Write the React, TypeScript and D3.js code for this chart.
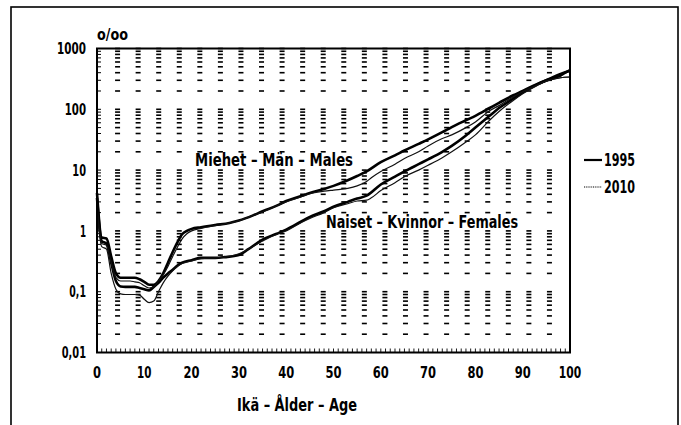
import React from "react";
import * as d3 from "d3";

const W = 681;
const H = 425;

const xTickLabels = ["0", "10", "20", "30", "40", "50", "60", "70", "80", "90", "100"];
const xTickValues = [0, 10, 20, 30, 40, 50, 60, 70, 80, 90, 100];
const yTickValues = [1000, 100, 10, 1, 0.1, 0.01];
const yTickLabels = ["1000", "100", "10", "1", "0,1", "0,01"];
const legendLabels = ["1995", "2010"];

const males1995: [number, number][] = [
  [0, 4.2], [1, 0.78], [2, 0.75], [3, 0.38], [4, 0.2], [5, 0.17], [6, 0.17], [7, 0.17], [8, 0.17],
  [9, 0.16], [10, 0.145], [11, 0.13], [12, 0.13], [13, 0.15], [14, 0.2], [15, 0.3], [16, 0.45],
  [17, 0.65], [18, 0.88], [19, 1.0], [20, 1.08], [22, 1.15], [25, 1.25], [28, 1.35], [30, 1.48],
  [33, 1.8], [35, 2.1], [38, 2.6], [40, 3.1], [43, 3.7], [45, 4.2], [48, 4.9], [50, 5.5], [53, 6.8],
  [55, 8.0], [57, 9.5], [60, 13.5], [63, 17.5], [65, 21], [68, 27], [70, 32], [73, 42], [75, 51],
  [78, 66], [80, 78], [83, 105], [85, 128], [88, 170], [90, 200], [93, 260], [95, 300], [98, 360],
  [99, 400], [100, 440],
];

const males2010: [number, number][] = [
  [0, 2.8], [1, 0.62], [2, 0.58], [3, 0.3], [4, 0.17], [5, 0.15], [6, 0.15], [7, 0.15], [8, 0.145],
  [9, 0.14], [10, 0.125], [11, 0.115], [12, 0.12], [13, 0.15], [14, 0.19], [15, 0.26], [16, 0.38],
  [17, 0.54], [18, 0.74], [19, 0.9], [20, 1.0], [22, 1.1], [25, 1.22], [28, 1.35], [30, 1.47],
  [33, 1.8], [35, 2.05], [38, 2.6], [40, 3.0], [43, 3.6], [45, 4.1], [48, 4.5], [50, 4.7], [53, 5.0],
  [55, 5.5], [57, 6.5], [58, 7.5], [60, 9.5], [63, 12.5], [65, 15.5], [68, 20], [70, 25], [73, 33],
  [75, 38], [78, 50], [80, 62], [83, 95], [85, 115], [88, 160], [90, 195], [93, 250], [95, 290],
  [98, 330], [100, 340],
];

const females1995: [number, number][] = [
  [0, 3.5], [1, 0.68], [2, 0.62], [3, 0.3], [4, 0.15], [5, 0.122], [6, 0.12], [7, 0.12], [8, 0.12],
  [9, 0.115], [10, 0.11], [11, 0.105], [12, 0.12], [13, 0.14], [14, 0.17], [15, 0.2], [16, 0.23],
  [17, 0.27], [18, 0.3], [20, 0.33], [22, 0.36], [25, 0.36], [27, 0.37], [30, 0.4], [32, 0.5],
  [35, 0.72], [38, 0.9], [40, 1.05], [43, 1.4], [45, 1.7], [48, 2.1], [50, 2.5], [53, 3.0], [55, 3.4],
  [57, 3.8], [60, 5.8], [63, 7.8], [65, 9.5], [68, 12.5], [70, 15], [73, 20], [75, 25], [78, 37],
  [80, 50], [83, 78], [85, 105], [88, 150], [90, 190], [93, 255], [95, 300], [98, 380], [100, 430],
];

const females2010: [number, number][] = [
  [0, 2.3], [1, 0.55], [2, 0.5], [3, 0.2], [4, 0.11], [5, 0.092], [6, 0.09], [7, 0.09], [8, 0.09],
  [9, 0.088], [10, 0.075], [11, 0.066], [12, 0.07], [13, 0.1], [14, 0.14], [15, 0.18], [16, 0.22],
  [17, 0.26], [18, 0.29], [20, 0.32], [22, 0.35], [25, 0.36], [27, 0.37], [30, 0.42], [32, 0.5],
  [35, 0.68], [38, 0.88], [40, 1.0], [43, 1.35], [45, 1.6], [48, 2.0], [50, 2.4], [53, 2.8], [55, 3.1],
  [57, 3.2], [58, 3.5], [60, 4.6], [63, 6.2], [65, 7.8], [68, 10], [70, 12], [73, 16], [75, 20],
  [78, 29], [80, 38], [83, 66], [85, 92], [88, 140], [90, 180], [93, 245], [95, 290], [98, 330],
  [100, 340],
];

const FONT = "'Liberation Sans Narrow', 'DejaVu Sans Condensed', 'Roboto', Arial, sans-serif";

function numWidth(s: string, digit: number) {
  let w = 0;
  for (const ch of s) w += ch === "," ? 3 : ch === "1" ? digit * 0.8 : digit;
  return w;
}

export default function App() {
  const left = 97, right = 570, top = 48.5, bottom = 352.5;
  const x = d3.scaleLinear().domain([0, 100]).range([left, right]);
  const y = d3.scaleLog().domain([0.01, 1000]).range([bottom, top]);

  const line = d3
    .line<[number, number]>()
    .x((d) => x(d[0]))
    .y((d) => y(d[1]))
    .curve(d3.curveMonotoneX);

  const gridCols = d3.range(1, 23).map((k) => (k * 100) / 23);
  const minorY = y.ticks().filter((v) => v > 0.0101);
  const yearTicks = d3.range(1, 100);

  const series = [
    { data: males1995, w: 2.6, c: "#000" },
    { data: females1995, w: 2.6, c: "#000" },
    { data: males2010, w: 1.2, c: "#111" },
    { data: females2010, w: 1.2, c: "#111" },
  ];

  const adj = "spacingAndGlyphs";

  return (
    <svg
      width={W}
      height={H}
      style={{ position: "absolute", left: 0, top: 0, background: "#fff" }}
      fontFamily={FONT}
      fontWeight="bold"
    >
      <rect x={0} y={0} width={W} height={H} fill="#fff" />
      {/* outer frame */}
      <rect x={11} y={7} width={667} height={430} fill="none" stroke="#000" strokeWidth={1.6} />

      {/* grid dashes */}
      {gridCols.map((gc, i) =>
        minorY.map((v, j) => (
          <rect
            key={`g${i}-${j}`}
            x={x(gc) - 2.5}
            y={y(v) - 0.8}
            width={5}
            height={1.6}
            fill="#000"
          />
        ))
      )}

      {/* left axis minor ticks */}
      {minorY.map((v, j) => (
        <line key={`ly${j}`} x1={left} x2={left + 4} y1={y(v)} y2={y(v)} stroke="#000" strokeWidth={1} />
      ))}
      {/* bottom axis year ticks */}
      {yearTicks.map((a) => (
        <line key={`bt${a}`} x1={x(a)} x2={x(a)} y1={bottom} y2={bottom - 4} stroke="#000" strokeWidth={0.9} />
      ))}

      {/* series */}
      {series.map((s, i) => (
        <path key={`s${i}`} d={line(s.data) || ""} fill="none" stroke={s.c} strokeWidth={s.w} strokeLinejoin="round" />
      ))}

      {/* plot frame */}
      <rect x={left} y={top} width={right - left} height={bottom - top} fill="none" stroke="#000" strokeWidth={2} />

      {/* y tick labels */}
      {yTickValues.map((v, i) => (
        <text key={`yl${i}`} x={86} y={y(v)} dy="0.36em" textAnchor="end" fontSize={16}
          textLength={numWidth(yTickLabels[i], 7.6)} lengthAdjust={adj}>
          {yTickLabels[i]}
        </text>
      ))}
      {/* x tick labels */}
      {xTickValues.map((v, i) => (
        <text key={`xl${i}`} x={x(v)} y={372} dy="0.36em" textAnchor="middle" fontSize={16}
          textLength={numWidth(xTickLabels[i], 8)} lengthAdjust={adj}>
          {xTickLabels[i]}
        </text>
      ))}

      <text x={97} y={35} dy="0.36em" fontSize={15} textLength={31} lengthAdjust={adj}>o/oo</text>
      <text x={237} y={405} dy="0.36em" fontSize={17} textLength={120} lengthAdjust={adj}>Ikä – Ålder – Age</text>

      <text x={195} y={160} dy="0.36em" fontSize={18} textLength={158} lengthAdjust={adj}>Miehet – Män – Males</text>
      <text x={326} y={222} dy="0.36em" fontSize={18} textLength={192} lengthAdjust={adj}>Naiset – Kvinnor – Females</text>

      {/* legend */}
      <line x1={584} x2={602} y1={160} y2={160} stroke="#000" strokeWidth={2.2} />
      <text x={604} y={160} dy="0.36em" fontSize={17} textLength={31} lengthAdjust={adj}>{legendLabels[0]}</text>
      <line x1={584} x2={602} y1={187} y2={187} stroke="#555" strokeWidth={1.6} strokeDasharray="1 0.8" />
      <text x={604} y={187} dy="0.36em" fontSize={17} textLength={31} lengthAdjust={adj}>{legendLabels[1]}</text>
    </svg>
  );
}
